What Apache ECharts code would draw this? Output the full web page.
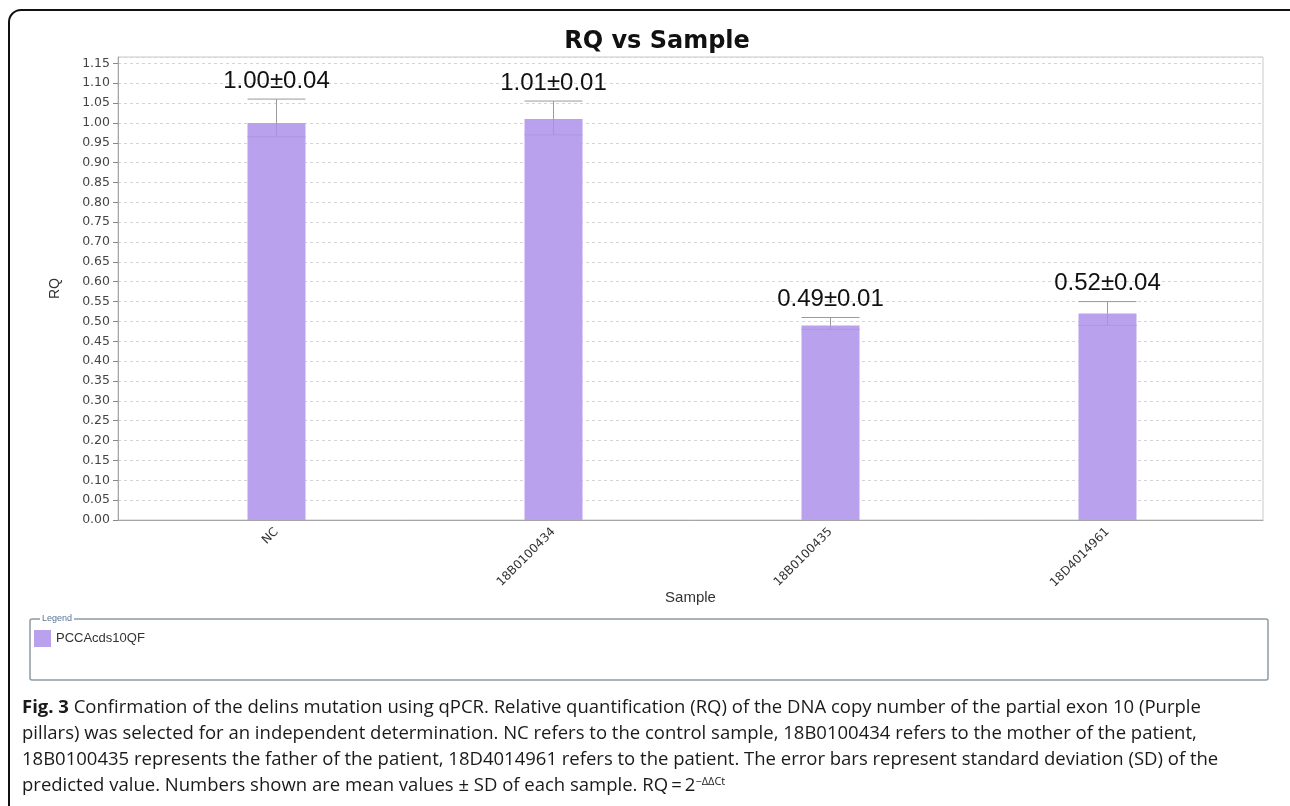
<!DOCTYPE html>
<html>
<head>
<meta charset="utf-8">
<script src="https://cdn.jsdelivr.net/npm/echarts@6/dist/echarts.min.js"></script>
<style>
html,body{margin:0;padding:0;background:#fff;}
#chart{width:1290px;height:806px;}
</style>
</head>
<body>
<div id="chart"></div>
<script>
// ---- data ----
const categories = ['NC', '18B0100434', '18B0100435', '18D4014961'];
const rqMean = [1.00, 1.01, 0.49, 0.52];
const rqSD = [0.04, 0.01, 0.01, 0.04];
const errHigh = [1.06, 1.055, 0.51, 0.55];
const errLow = [0.965, 0.97, 0.48, 0.49];
const yTickStep = 0.05;
const yMax = 1.166;
const seriesName = 'PCCAcds10QF';
const captionLines = [
  'Confirmation of the delins mutation using qPCR. Relative quantification (RQ) of the DNA copy number of the partial exon 10 (Purple',
  'pillars) was selected for an independent determination. NC refers to the control sample, 18B0100434 refers to the mother of the patient,',
  '18B0100435 represents the father of the patient, 18D4014961 refers to the patient. The error bars represent standard deviation (SD) of the',
  'predicted value. Numbers shown are mean values \u00b1 SD of each sample. RQ\u2009=\u20092'
];

const chart = echarts.init(document.getElementById('chart'));
const BAR_COLOR = '#b9a1ee';
const CAP_FONT = 18.5;

const errData = categories.map((c, i) => [i, errLow[i], errHigh[i], rqMean[i], rqMean[i].toFixed(2) + '\u00b1' + rqSD[i].toFixed(2)]);

const option = {
  backgroundColor: '#ffffff',
  animation: false,
  title: {
    text: 'RQ vs Sample',
    left: 652, top: 25, textAlign: 'center',
    textStyle: {fontFamily: 'DejaVu Sans', fontWeight: 'bold', fontSize: 24, color: '#111'}
  },
  grid: [
    {left: 118, right: 27, top: 57, bottom: 286, show: true, borderColor: '#c9c9c9', borderWidth: 1, containLabel: false},
    {left: 138, right: 44, top: 57, bottom: 286, containLabel: false}
  ],
  legend: {
    show: true, left: 34, top: 630, padding: 0, itemWidth: 17, itemHeight: 17, icon: 'rect', itemGap: 5,
    textStyle: {fontFamily: 'Liberation Sans', fontSize: 13, color: '#333'},
    data: [seriesName]
  },
  xAxis: [
    {type: 'value', gridIndex: 0, min: 0, max: 1, axisLine: {show: true, lineStyle: {color: '#a6a6a6'}},
     axisTick: {show: false}, axisLabel: {show: false}, splitLine: {show: false},
     name: 'Sample', nameLocation: 'middle', nameGap: 70,
     nameTextStyle: {fontFamily: 'Liberation Sans', fontSize: 15, color: '#333'}},
    {type: 'category', gridIndex: 1, data: categories, boundaryGap: true,
     axisLine: {show: false}, axisTick: {show: false},
     axisLabel: {rotate: 45, margin: 10, fontFamily: 'DejaVu Sans', fontSize: 12, color: '#333'}}
  ],
  yAxis: [
    {type: 'value', gridIndex: 0, min: 0, max: yMax, interval: yTickStep,
     axisLine: {show: true, lineStyle: {color: '#a6a6a6'}},
     axisTick: {show: true, length: 5, lineStyle: {color: '#888'}},
     axisLabel: {showMaxLabel: false, margin: 8, fontFamily: 'DejaVu Sans', fontSize: 12.5, color: '#444',
                 formatter: v => v.toFixed(2)},
     splitLine: {show: true, lineStyle: {color: '#d4d4d4', type: [3, 3], width: 1}},
     name: 'RQ', nameLocation: 'middle', nameGap: 56,
     nameTextStyle: {fontFamily: 'Liberation Sans', fontSize: 14, color: '#333'}},
    {type: 'value', gridIndex: 1, min: 0, max: yMax, interval: yTickStep, show: false}
  ],
  series: [
    {
      name: seriesName, type: 'bar', xAxisIndex: 1, yAxisIndex: 1,
      data: rqMean, barWidth: 58,
      itemStyle: {color: BAR_COLOR}
    },
    {
      name: 'err', type: 'custom', xAxisIndex: 1, yAxisIndex: 1, z: 5,
      data: errData,
      renderItem: function (params, api) {
        const x = api.value(0);
        const hi = api.coord([x, api.value(2)]);
        const lo = api.coord([x, api.value(1)]);
        const mid = api.coord([x, api.value(3)]);
        const half = 29;
        const label = errData[params.dataIndex][4];
        return {
          type: 'group',
          children: [
            {type: 'line', shape: {x1: hi[0], y1: hi[1], x2: mid[0], y2: mid[1]}, style: {stroke: '#9a9a9a', lineWidth: 1}},
            {type: 'line', shape: {x1: mid[0], y1: mid[1], x2: lo[0], y2: lo[1]}, style: {stroke: '#a792d6', lineWidth: 1}},
            {type: 'line', shape: {x1: hi[0] - half, y1: hi[1], x2: hi[0] + half, y2: hi[1]}, style: {stroke: '#9a9a9a', lineWidth: 1}},
            {type: 'line', shape: {x1: lo[0] - half, y1: lo[1], x2: lo[0] + half, y2: lo[1]}, style: {stroke: '#ad99dc', lineWidth: 1}},
            {type: 'text', x: hi[0], y: hi[1] - 6,
             style: {text: label, textAlign: 'center', textVerticalAlign: 'bottom',
                     font: '24px "Liberation Sans"', fill: '#111'}}
          ]
        };
      }
    }
  ],
  graphic: [
    {type: 'rect', shape: {x: 9, y: 10, width: 1300, height: 820, r: 12}, style: {fill: 'none', stroke: '#111', lineWidth: 2}, z: 100},
    {type: 'rect', shape: {x: 30, y: 619, width: 1238, height: 61, r: 2}, style: {fill: 'none', stroke: '#8c9ba6', lineWidth: 1.5}, z: 1},
    {type: 'text', x: 40, y: 619, style: {text: 'Legend', font: '9px "Liberation Sans"', fill: '#5b7593', textVerticalAlign: 'middle', backgroundColor: '#fff', padding: [0, 2]}, z: 2},
    {type: 'text', x: 22, y: 708, style: {
      text: '{b|Fig. 3} ' + captionLines[0], textVerticalAlign: 'middle',
      rich: {b: {fontFamily: 'Open Sans', fontWeight: 'bold', fontSize: CAP_FONT, fill: '#1a1a1a'}},
      font: CAP_FONT + 'px "Open Sans"', fill: '#1a1a1a'}},
    {type: 'text', x: 22, y: 734, style: {text: captionLines[1], textVerticalAlign: 'middle', font: CAP_FONT + 'px "Open Sans"', fill: '#1a1a1a'}},
    {type: 'text', x: 22, y: 760, style: {text: captionLines[2], textVerticalAlign: 'middle', font: CAP_FONT + 'px "Open Sans"', fill: '#1a1a1a'}},
    {type: 'text', x: 22, y: 786, style: {
      text: captionLines[3] + '{s|\u2212\u0394\u0394Ct}', textVerticalAlign: 'middle',
      rich: {s: {fontFamily: 'Open Sans', fontSize: 11, fill: '#1a1a1a', verticalAlign: 'top', padding: [0, 0, 9, 0]}},
      font: CAP_FONT + 'px "Open Sans"', fill: '#1a1a1a'}}
  ]
};
chart.setOption(option);
</script>
</body>
</html>
